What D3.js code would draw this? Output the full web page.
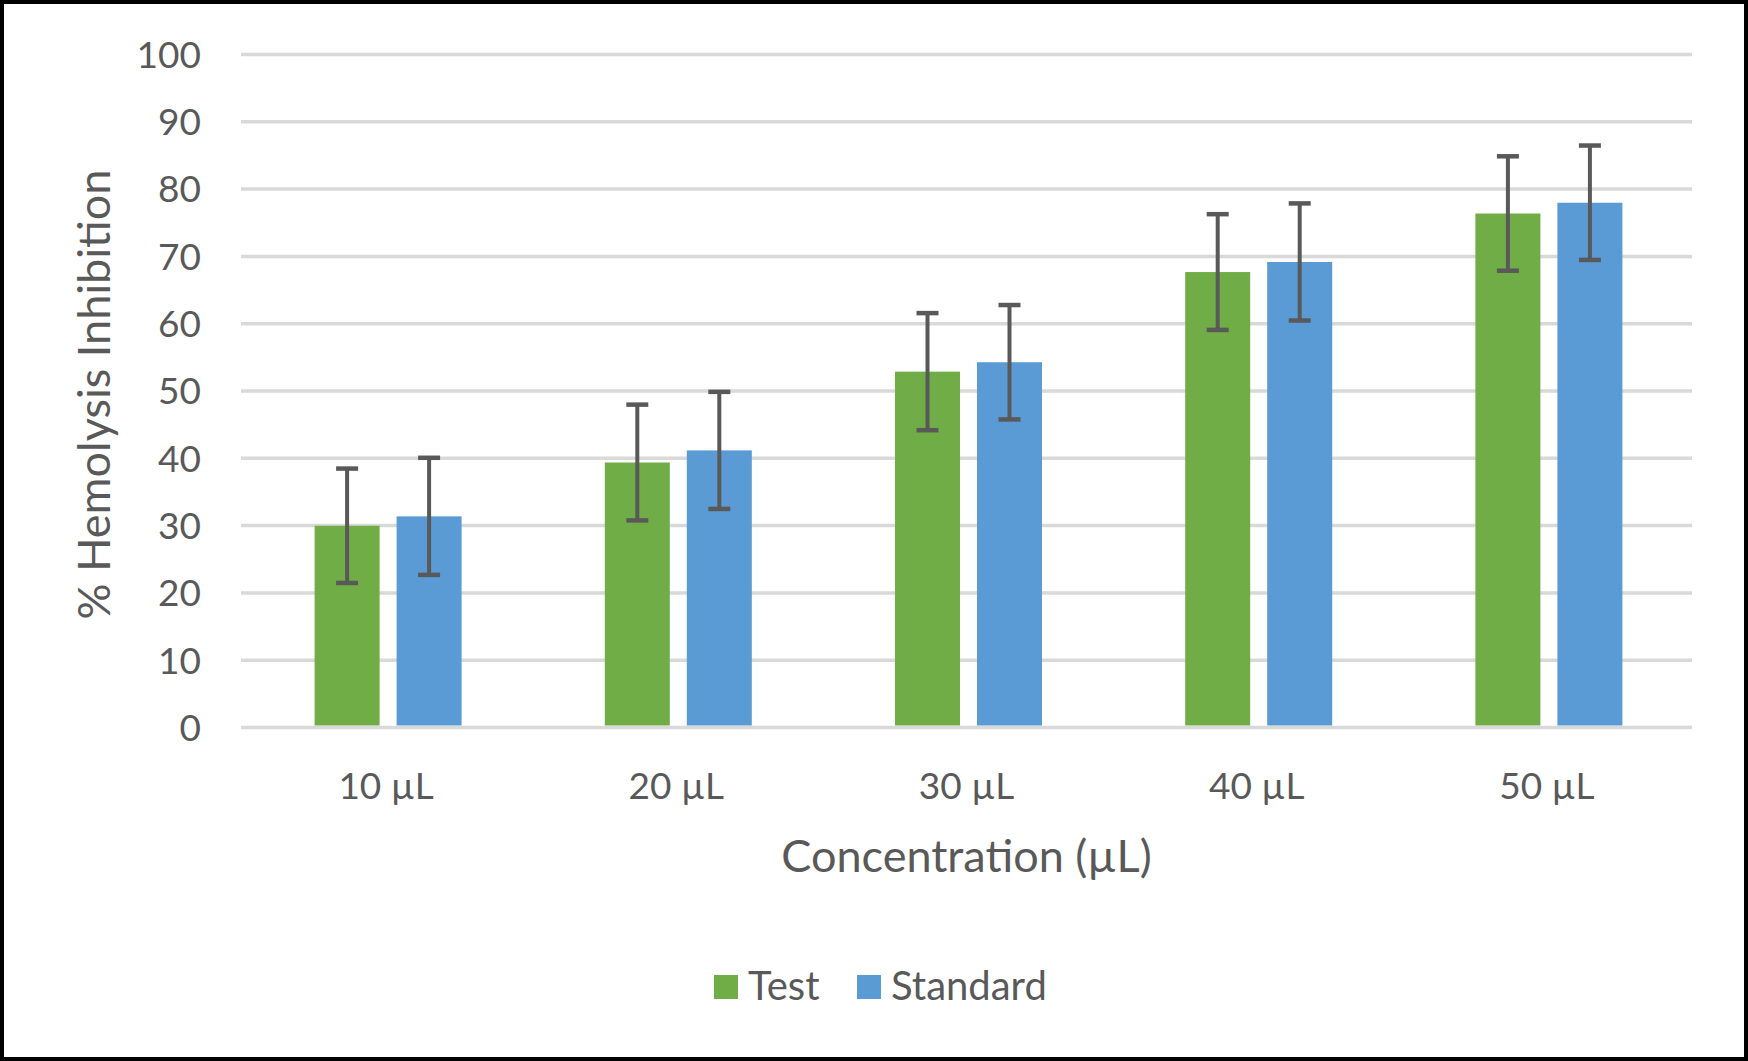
<!DOCTYPE html>
<html>
<head>
<meta charset="utf-8">
<script src="https://cdn.jsdelivr.net/npm/d3@7"></script>
<style>
  html, body { margin: 0; padding: 0; background: #fff; }
  svg { display: block; font-family: Lato, "Open Sans", sans-serif; }
  .grid line { stroke: #d9d9d9; stroke-width: 3.5px; }
  .axis text { fill: #595959; }
</style>
</head>
<body>
<div id="chart"></div>
<script>
// chart data
var categories = ["10 µL", "20 µL", "30 µL", "40 µL", "50 µL"];
var seriesNames = ["Test", "Standard"];
var testValues = [29.9, 39.3, 52.8, 67.6, 76.3];
var standardValues = [31.3, 41.1, 54.2, 69.1, 77.9];
var testErrors = [8.5, 8.6, 8.7, 8.6, 8.5];
var standardErrors = [8.7, 8.7, 8.5, 8.7, 8.5];
var yTicks = [0, 10, 20, 30, 40, 50, 60, 70, 80, 90, 100];

var W = 1748, H = 1061;
var colors = {Test: "#70ad47", Standard: "#5b9bd5"};
var plot = {left: 241, right: 1692, top: 54, bottom: 727};

var svg = d3.select("#chart").append("svg")
    .attr("width", W).attr("height", H);

svg.append("rect")
    .attr("x", 2).attr("y", 2)
    .attr("width", W - 4).attr("height", H - 4)
    .attr("fill", "#fff").attr("stroke", "#000").attr("stroke-width", 4);

var x = d3.scaleBand().domain(categories).range([plot.left, plot.right]);
var xInner = d3.scaleBand().domain(seriesNames).range([0, 147]).paddingInner(17 / 82);
var y = d3.scaleLinear().domain([0, 100]).range([plot.bottom, plot.top]);

// gridlines + y labels
var yAxis = svg.append("g")
    .attr("class", "axis grid")
    .attr("transform", "translate(" + plot.left + ",0)")
    .call(d3.axisLeft(y).tickValues(yTicks)
        .tickSize(-(plot.right - plot.left)).tickPadding(40));
yAxis.select(".domain").remove();
yAxis.selectAll("text")
    .attr("font-size", 37).attr("font-family", "Lato, sans-serif")
    .attr("dy", "0.36em");

// x labels
var xAxis = svg.append("g")
    .attr("class", "axis")
    .attr("transform", "translate(0," + plot.bottom + ")")
    .call(d3.axisBottom(x).tickSize(0));
xAxis.select(".domain").remove();
xAxis.selectAll("text")
    .attr("font-size", 37).attr("font-family", "Lato, sans-serif")
    .attr("y", 72).attr("dy", 0);

// bars
var rows = categories.map(function (c, i) {
    return [
        {cat: c, key: "Test", value: testValues[i], err: testErrors[i]},
        {cat: c, key: "Standard", value: standardValues[i], err: standardErrors[i]}
    ];
});
var flat = [].concat.apply([], rows);

function barX(d) {
    return x(d.cat) + x.bandwidth() / 2 - 71.5 + xInner(d.key);
}

svg.append("g").selectAll("rect")
    .data(flat)
  .enter().append("rect")
    .attr("x", barX)
    .attr("y", function (d) { return y(d.value); })
    .attr("width", xInner.bandwidth())
    .attr("height", function (d) { return y(0) - 1.5 - y(d.value); })
    .attr("fill", function (d) { return colors[d.key]; });

// error bars
var eb = svg.append("g").selectAll("g")
    .data(flat)
  .enter().append("g")
    .attr("stroke", "#595959");
var cx = function (d) { return barX(d) + xInner.bandwidth() / 2; };
eb.append("line")
    .attr("x1", cx).attr("x2", cx)
    .attr("y1", function (d) { return y(d.value + d.err); })
    .attr("y2", function (d) { return y(d.value - d.err); })
    .attr("stroke-width", 4);
eb.append("line")
    .attr("x1", function (d) { return cx(d) - 11; })
    .attr("x2", function (d) { return cx(d) + 11; })
    .attr("y1", function (d) { return y(d.value + d.err); })
    .attr("y2", function (d) { return y(d.value + d.err); })
    .attr("stroke-width", 4.5);
eb.append("line")
    .attr("x1", function (d) { return cx(d) - 11; })
    .attr("x2", function (d) { return cx(d) + 11; })
    .attr("y1", function (d) { return y(d.value - d.err); })
    .attr("y2", function (d) { return y(d.value - d.err); })
    .attr("stroke-width", 4.5);

// axis titles
svg.append("text")
    .attr("x", (plot.left + plot.right) / 2).attr("y", 872)
    .attr("text-anchor", "middle")
    .attr("font-size", 45).attr("fill", "#595959")
    .text("Concentration (µL)");

svg.append("text")
    .attr("transform", "translate(110," + ((plot.top + plot.bottom) / 2 + 4) + ") rotate(-90)")
    .attr("text-anchor", "middle")
    .attr("font-size", 45).attr("fill", "#595959")
    .text("% Hemolysis Inhibition");

// legend
var legend = svg.append("g");
var lx = [714, 857];
seriesNames.forEach(function (s, i) {
    legend.append("rect")
        .attr("x", lx[i]).attr("y", 975)
        .attr("width", 24).attr("height", 24)
        .attr("fill", colors[s]);
    legend.append("text")
        .attr("x", lx[i] + 34).attr("y", 1000)
        .attr("font-size", 40).attr("fill", "#595959")
        .text(s);
});
</script>
</body>
</html>
